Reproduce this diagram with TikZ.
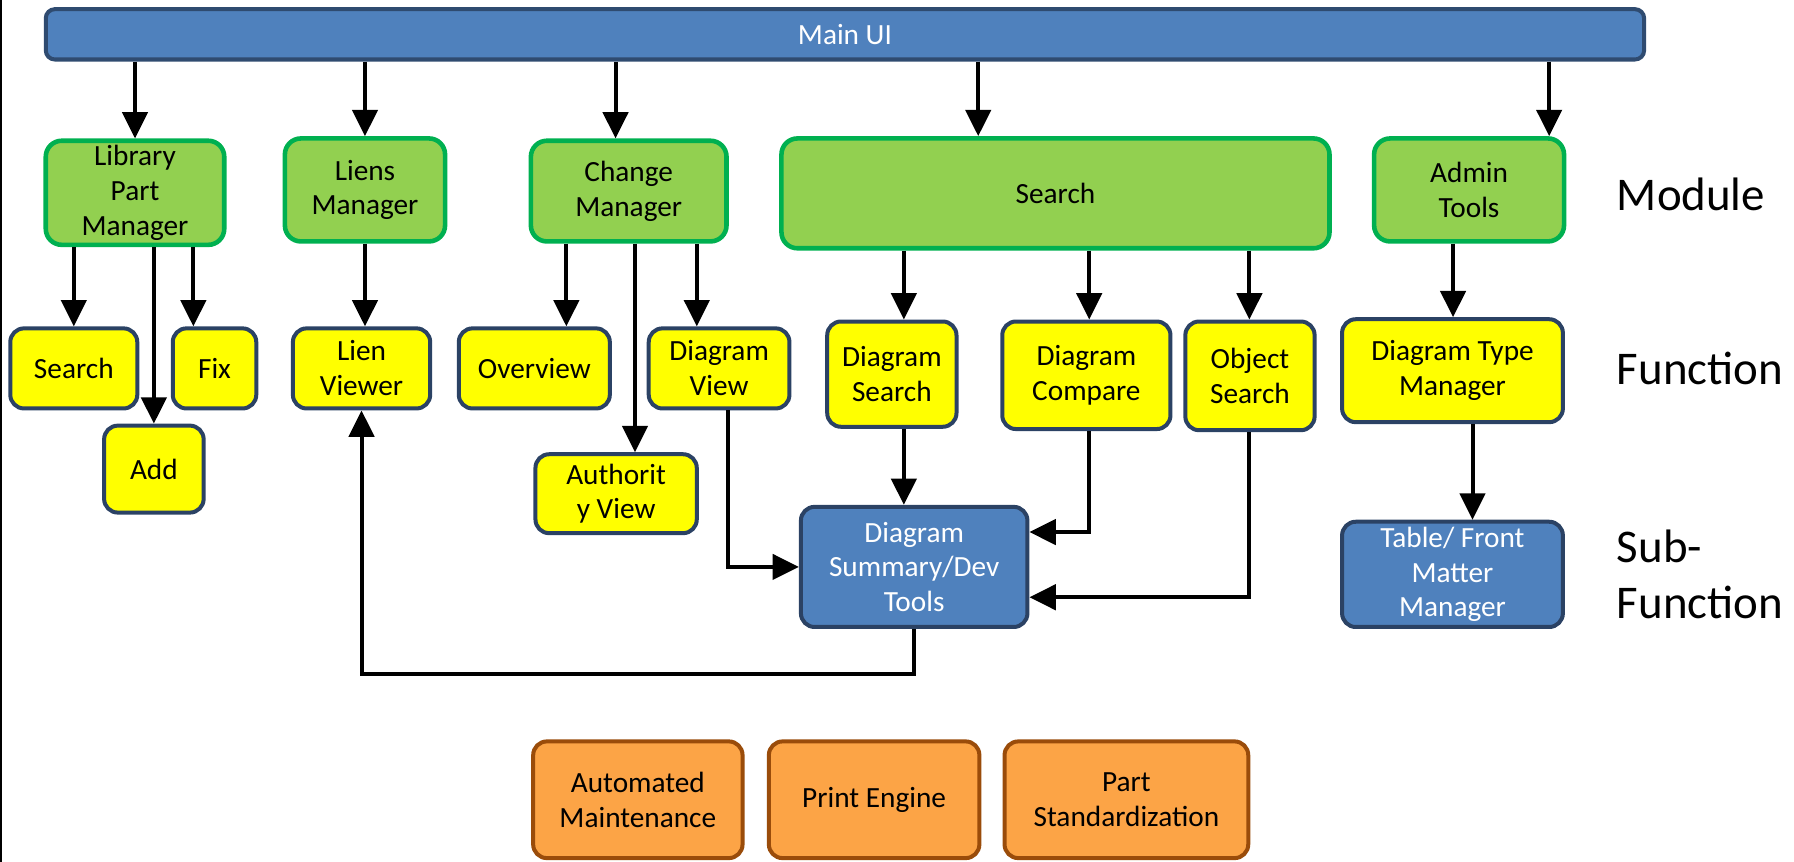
\documentclass[tikz,border=0pt]{standalone}
\usepackage{fontspec}
\setmainfont{Carlito}
\usetikzlibrary{arrows.meta}

\definecolor{uiblue}{HTML}{4F81BD}
\definecolor{uiedge}{HTML}{2F4B70}
\definecolor{modfill}{HTML}{92D050}
\definecolor{modedge}{HTML}{00B050}
\definecolor{funfill}{HTML}{FFFF00}
\definecolor{funedge}{HTML}{2B4264}
\definecolor{extfill}{HTML}{FCA446}
\definecolor{extedge}{HTML}{9A4C0A}

\tikzset{
  box/.style={rectangle, rounded corners=12pt, line width=3.5pt, inner sep=0pt,
    align=center, font=\fontsize{25.6}{30.5}\selectfont},
  mainbar/.style={box, fill=uiblue, draw=uiedge, text=white, rounded corners=8pt},
  modbox/.style={box, fill=modfill, draw=modedge, line width=4pt, rounded corners=14pt},
  funbox/.style={box, fill=funfill, draw=funedge},
  subbox/.style={box, fill=uiblue, draw=funedge, text=white},
  extbox/.style={box, fill=extfill, draw=extedge},
  tier/.style={anchor=west, align=left, inner sep=0pt, font=\fontsize{41}{49}\selectfont},
  arr/.style={line width=3.5pt, -{Triangle[length=23pt,width=22pt]}},
}

\begin{document}
\begin{tikzpicture}[x=1pt, y=-1pt]
\useasboundingbox (0,0) rectangle (1568,753);
\draw[line width=2pt] (1,0) -- (1,753);

% top bar
\node[mainbar, minimum width=1397pt, minimum height=44pt] (mainui) at (738.5,30) {Main UI};

% modules
\node[modbox, minimum width=156pt, minimum height=91pt] (lib) at (118,168.5) {Library\\Part\\Manager};
\node[modbox, minimum width=140pt, minimum height=90pt] (liens) at (319,166) {Liens\\Manager};
\node[modbox, minimum width=171pt, minimum height=88pt] (change) at (549.5,167) {Change\\Manager};
\node[modbox, minimum width=479pt, minimum height=96pt] (search) at (922.5,169) {Search};
\node[modbox, minimum width=166pt, minimum height=90pt] (admin) at (1284,166) {Admin\\Tools};

% functions
\node[funbox, minimum width=111pt, minimum height=70pt] (srchL) at (64.5,322) {Search};
\node[funbox, minimum width=73pt, minimum height=70pt] (fix) at (187.5,322) {Fix};
\node[funbox, minimum width=87pt, minimum height=76pt] (add) at (134.5,410) {Add};
\node[funbox, minimum width=120pt, minimum height=70pt] (lview) at (316,322) {Lien\\Viewer};
\node[funbox, minimum width=132pt, minimum height=70pt] (over) at (467,322) {Overview};
\node[funbox, minimum width=123pt, minimum height=70pt] (dview) at (628.5,322) {Diagram\\View};
\node[funbox, minimum width=141pt, minimum height=69pt] (auth) at (538.5,431.5) {Authorit\\y View};
\node[funbox, minimum width=113pt, minimum height=92pt] (dsearch) at (779.5,327) {Diagram\\Search};
\node[funbox, minimum width=147pt, minimum height=94pt] (dcomp) at (949.5,328) {Diagram\\Compare};
\node[funbox, minimum width=113pt, minimum height=95pt] (osearch) at (1092.5,328.5) {Object\\Search};
\node[funbox, minimum width=193pt, minimum height=90pt] (dtype) at (1269.5,324) {Diagram Type\\Manager};

% sub-functions
\node[subbox, minimum width=198pt, minimum height=105pt] (summ) at (799,495.5) {Diagram\\Summary/Dev\\Tools};
\node[subbox, minimum width=193pt, minimum height=92pt] (table) at (1269.5,502) {Table/ Front\\Matter\\Manager};

% stand-alone services
\node[extbox, minimum width=183pt, minimum height=102pt] (auto) at (557.5,699) {Automated\\Maintenance};
\node[extbox, minimum width=184pt, minimum height=102pt] (print) at (764,699) {Print Engine};
\node[extbox, minimum width=213pt, minimum height=102pt] (stdz) at (984.5,699) {Part\\Standardization};

% tier labels
\node[tier] (lmod) at (1413,170) {Module};
\node[tier] (lfun) at (1413,322) {Function};
\node[tier] (lsub) at (1413,502) {Sub-\\Function};

% main UI to modules
\draw[arr] (mainui.south -| lib.north) -- (lib.north);
\draw[arr] (mainui.south -| liens.north) -- (liens.north);
\draw[arr] (mainui.south -| 538,0) -- (change.north -| 538,0);
\draw[arr] (mainui.south -| 855,0) -- (search.north -| 855,0);
\draw[arr] (mainui.south -| 1354,0) -- (admin.north -| 1354,0);

% modules to functions
\draw[arr] (lib.south -| srchL.north) -- (srchL.north);
\draw[arr] (lib.south -| add.north) -- (add.north);
\draw[arr] (lib.south -| 169,0) -- (fix.north -| 169,0);
\draw[arr] (liens.south) -- (lview.north -| liens.south);
\draw[arr] (change.south -| 495,0) -- (over.north -| 495,0);
\draw[arr] (change.south -| 555,0) -- (auth.north -| 555,0);
\draw[arr] (change.south -| 609,0) -- (dview.north -| 609,0);
\draw[arr] (search.south -| 790,0) -- (dsearch.north -| 790,0);
\draw[arr] (search.south -| 952,0) -- (dcomp.north -| 952,0);
\draw[arr] (search.south -| 1092,0) -- (osearch.north -| 1092,0);
\draw[arr] (admin.south -| 1270,0) -- (dtype.north -| 1270,0);

% functions to sub-functions
\draw[arr] (dtype.south -| 1287,0) -- (table.north -| 1287,0);
\draw[arr] (dsearch.south -| 790,0) -- (summ.north -| 790,0);
\draw[arr] (dcomp.south -| 952,0) |- (summ.east |- 0,465);
\draw[arr] (osearch.south -| 1092,0) |- (summ.east |- 0,522);
\draw[arr] (dview.south -| 636,0) |- (summ.west);

% summary back to lien viewer
\coordinate (back) at (800,589);
\draw[arr] (summ.south) -- (summ.south |- back) -| (lview.south);
\end{tikzpicture}
\end{document}
